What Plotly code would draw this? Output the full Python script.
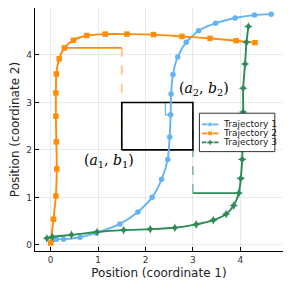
import plotly.graph_objects as go

# ---------------- data ----------------
traj1_x = [0.04, 0.12, 0.27, 0.62, 0.96, 1.46, 1.84, 2.14, 2.34, 2.47, 2.51, 2.53, 2.54, 2.58, 2.68, 2.86, 3.12, 3.48, 3.89, 4.30, 4.65]
traj1_y = [0.10, 0.12, 0.12, 0.16, 0.25, 0.44, 0.69, 1.00, 1.38, 1.80, 2.27, 2.74, 3.18, 3.59, 3.96, 4.27, 4.51, 4.67, 4.78, 4.84, 4.86]

traj2_x = [0.00, 0.06, 0.11, 0.13, 0.12, 0.11, 0.11, 0.12, 0.18, 0.29, 0.48, 0.76, 1.15, 1.61, 2.17, 2.77, 3.36, 3.91, 4.31]
traj2_y = [0.04, 0.54, 1.03, 1.60, 2.17, 2.71, 3.20, 3.60, 3.92, 4.15, 4.31, 4.41, 4.44, 4.44, 4.43, 4.39, 4.35, 4.30, 4.26]

traj3_x = [-0.08, 0.04, 0.44, 0.98, 1.54, 2.10, 2.62, 3.07, 3.43, 3.70, 3.86, 3.97, 4.01, 4.04, 4.05, 4.06, 4.06, 4.10, 4.13, 4.17]
traj3_y = [0.14, 0.17, 0.21, 0.27, 0.31, 0.33, 0.36, 0.43, 0.52, 0.65, 0.83, 1.09, 1.40, 1.80, 2.30, 2.80, 3.30, 3.81, 4.27, 4.60]

names = ["Trajectory 1", "Trajectory 2", "Trajectory 3"]

# box corners (a1, b1) and (a2, b2)
a1, b1 = 1.5, 2.0
a2, b2 = 3.0, 3.0

# projection helper lines
proj2_h_x = [0.29, a1]
proj2_h_y = [4.15, 4.15]
proj2_v_x = [a1, a1]
proj2_v_y = [4.15, b1]

proj3_h_x = [3.97, a2]
proj3_h_y = [1.09, 1.09]
proj3_v_x = [a2, a2]
proj3_v_y = [1.09, b2]

proj1_x = [2.535, 2.42, 2.42, 2.53]
proj1_y = [3.0, 3.0, 2.74, 2.74]

# ---------------- style ----------------
BLUE = "#63b3f5"
ORANGE = "#ff8c0a"
GREEN = "#2e8b57"

fig = go.Figure()

# projection lines
fig.add_trace(go.Scatter(x=proj2_v_x, y=proj2_v_y, mode="lines", opacity=0.5,
                         line=dict(color=ORANGE, width=1.8, dash="dash"), showlegend=False))
fig.add_trace(go.Scatter(x=proj2_h_x, y=proj2_h_y, mode="lines",
                         line=dict(color=ORANGE, width=1.6), showlegend=False))
fig.add_trace(go.Scatter(x=proj3_v_x, y=proj3_v_y, mode="lines", opacity=0.5,
                         line=dict(color=GREEN, width=1.8, dash="dash"), showlegend=False))
fig.add_trace(go.Scatter(x=proj3_h_x, y=proj3_h_y, mode="lines",
                         line=dict(color=GREEN, width=1.6), showlegend=False))
fig.add_trace(go.Scatter(x=proj1_x, y=proj1_y, mode="lines",
                         line=dict(color=BLUE, width=1.2), showlegend=False))

# box
fig.add_trace(go.Scatter(x=[a1, a2, a2, a1, a1], y=[b1, b1, b2, b2, b1], mode="lines",
                         line=dict(color="black", width=1.6), showlegend=False, hoverinfo="skip"))

# trajectories
fig.add_trace(go.Scatter(x=traj1_x, y=traj1_y, mode="lines+markers", name=names[0],
                         line=dict(color=BLUE, width=1.9, shape="spline", smoothing=0.6),
                         marker=dict(symbol="circle", size=5.5, color=BLUE), showlegend=False))
fig.add_trace(go.Scatter(x=traj2_x, y=traj2_y, mode="lines+markers", name=names[1],
                         line=dict(color=ORANGE, width=1.9, shape="spline", smoothing=0.6),
                         marker=dict(symbol="square", size=5.5, color=ORANGE), showlegend=False))
fig.add_trace(go.Scatter(x=traj3_x, y=traj3_y, mode="lines+markers", name=names[2],
                         line=dict(color=GREEN, width=1.9, shape="spline", smoothing=0.6),
                         marker=dict(symbol="star-diamond", size=6.5, color=GREEN), showlegend=False))

# ---------------- custom legend on overlay axes (0..1 = plot area) ----------------
lx0, lx1, ly0, ly1 = 0.663, 0.967, 0.409, 0.567
fig.add_trace(go.Scatter(x=[lx0, lx1, lx1, lx0, lx0], y=[ly0, ly0, ly1, ly1, ly0],
                         xaxis="x2", yaxis="y2", mode="lines", fill="toself",
                         fillcolor="white", line=dict(color="#333333", width=1),
                         showlegend=False, hoverinfo="skip"))
rows = [0.521, 0.484, 0.447]
colors = [BLUE, ORANGE, GREEN]
symbols = ["circle", "square", "star-diamond"]
for ry, c, s, n in zip(rows, colors, symbols, names):
    fig.add_trace(go.Scatter(x=[0.673, 0.706, 0.740], y=[ry, ry, ry], xaxis="x2", yaxis="y2",
                             mode="lines+markers", line=dict(color=c, width=1.8),
                             marker=dict(symbol=s, size=[0, 5, 0] if s != "star-diamond" else [0, 6, 0], color=c),
                             showlegend=False, hoverinfo="skip"))
    fig.add_annotation(x=0.748, y=ry, xref="paper", yref="paper", text=n, showarrow=False,
                       xanchor="left", yanchor="middle",
                       font=dict(family="DejaVu Sans", size=9, color="#222222"))

# labels for corners
fig.add_annotation(x=1.22, y=1.76, text="(<i>a</i><sub>1</sub>, <i>b</i><sub>1</sub>)", showarrow=False,
                   font=dict(family="DejaVu Serif", size=14, color="black"))
fig.add_annotation(x=3.24, y=3.28, text="(<i>a</i><sub>2</sub>, <i>b</i><sub>2</sub>)", showarrow=False,
                   font=dict(family="DejaVu Serif", size=14, color="black"))

axis_common = dict(showline=True, linecolor="black", linewidth=1.2, ticks="inside", ticklen=4,
                   tickcolor="black", tickwidth=1, showgrid=True, gridcolor="rgba(0,0,0,0.08)",
                   gridwidth=0.8, zeroline=False, dtick=1, tick0=0, automargin=False,
                   tickfont=dict(family="DejaVu Sans", size=9, color="#333333"))

# page body has an 8px margin, so the figure is 283 px and offset accordingly
fig.update_layout(
    width=283, height=283,
    margin=dict(l=27, r=8, t=0, b=40),
    paper_bgcolor="white", plot_bgcolor="white",
    showlegend=False,
    xaxis=dict(range=[-0.33, 4.9], title=dict(text="Position (coordinate 1)", standoff=4,
               font=dict(family="DejaVu Sans", size=12, color="#222222")), **axis_common),
    yaxis=dict(range=[-0.13, 4.99], title=dict(text="Position (coordinate 2)", standoff=6,
               font=dict(family="DejaVu Sans", size=12, color="#222222")), **axis_common),
    xaxis2=dict(overlaying="x", range=[0, 1], visible=False, fixedrange=True),
    yaxis2=dict(overlaying="y", range=[0, 1], visible=False, fixedrange=True),
)

fig.write_html("out.html")
